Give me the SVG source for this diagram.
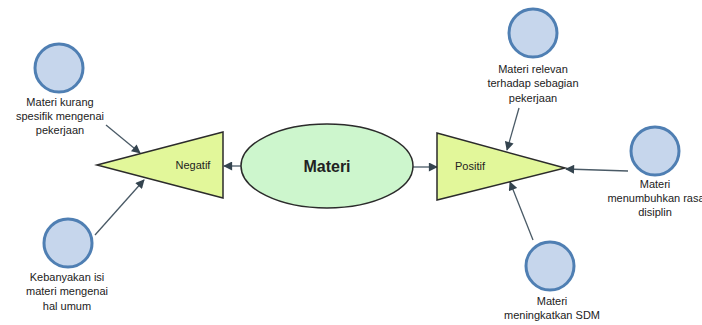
<svg xmlns="http://www.w3.org/2000/svg" width="702" height="325" viewBox="0 0 702 325">
  <style>
    .lbl { font-family: "Liberation Sans", Arial, sans-serif; font-size: 11px; fill: #222; text-anchor: middle; }
    .factor { fill: #c6d6ec; stroke: #4f7fb3; stroke-width: 3; }
    .tri { fill: #e2f79a; stroke: #2b2b2b; stroke-width: 1.5; }
    .conn { stroke: #4a5a66; stroke-width: 1.3; fill: none; marker-end: url(#arrow); }
  </style>
  <defs>
    <marker id="arrow" viewBox="0 0 10 10" refX="9" refY="5" markerWidth="10" markerHeight="9" markerUnits="userSpaceOnUse" orient="auto">
      <path d="M0,0 L10,5 L0,10 z" fill="#34444f"/>
    </marker>
  </defs>

  <rect width="702" height="325" fill="#ffffff"/>

  <!-- connectors -->
  <g id="connectors">
    <line class="conn" x1="242" y1="166" x2="224" y2="166"/>
    <line class="conn" x1="413" y1="167" x2="437" y2="167"/>
    <line class="conn" x1="106" y1="125" x2="140" y2="153"/>
    <line class="conn" x1="95" y1="235" x2="144" y2="180"/>
    <line class="conn" x1="519" y1="108" x2="507" y2="150"/>
    <line class="conn" x1="628" y1="171" x2="566" y2="169"/>
    <line class="conn" x1="533" y1="240" x2="510" y2="182"/>
  </g>

  <!-- central topic -->
  <g id="materi">
    <ellipse cx="327" cy="166" rx="86" ry="42" fill="#cdf6cd" stroke="#2b2b2b" stroke-width="1.5"/>
    <text x="327" y="172" font-family="Liberation Sans, Arial, sans-serif" font-size="16" font-weight="bold" fill="#222" text-anchor="middle">Materi</text>
  </g>

  <!-- negative side -->
  <g id="negatif">
    <polygon class="tri" points="97,165 223,132 223,198"/>
    <text class="lbl" x="193" y="169">Negatif</text>
  </g>

  <!-- positive side -->
  <g id="positif">
    <polygon class="tri" points="437,133 437,200 565,168"/>
    <text class="lbl" x="470" y="170">Positif</text>
  </g>

  <g id="kurang-spesifik">
    <circle class="factor" cx="59" cy="68" r="24"/>
    <text class="lbl" x="60" y="106">Materi kurang</text>
    <text class="lbl" x="60" y="120">spesifik mengenai</text>
    <text class="lbl" x="60" y="134">pekerjaan</text>
  </g>

  <g id="hal-umum">
    <circle class="factor" cx="68" cy="243" r="24"/>
    <text class="lbl" x="67" y="281">Kebanyakan isi</text>
    <text class="lbl" x="67" y="295">materi mengenai</text>
    <text class="lbl" x="67" y="310">hal umum</text>
  </g>

  <g id="relevan">
    <circle class="factor" cx="533" cy="33" r="24"/>
    <text class="lbl" x="533" y="73">Materi relevan</text>
    <text class="lbl" x="533" y="87">terhadap sebagian</text>
    <text class="lbl" x="533" y="102">pekerjaan</text>
  </g>

  <g id="disiplin">
    <circle class="factor" cx="655" cy="151" r="24"/>
    <text class="lbl" x="655" y="188">Materi</text>
    <text class="lbl" x="656" y="202">menumbuhkan rasa</text>
    <text class="lbl" x="655" y="216">disiplin</text>
  </g>

  <g id="sdm">
    <circle class="factor" cx="550" cy="266" r="24"/>
    <text class="lbl" x="552" y="305">Materi</text>
    <text class="lbl" x="552" y="319">meningkatkan SDM</text>
  </g>
</svg>
